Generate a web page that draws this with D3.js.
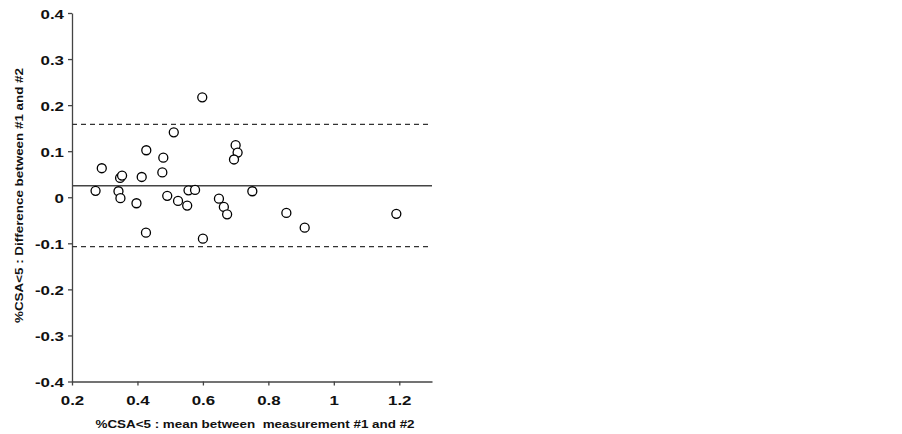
<!DOCTYPE html>
<html>
<head>
<meta charset="utf-8">
<script src="https://cdn.jsdelivr.net/npm/d3@7"></script>
<style>
  body { margin: 0; background: #fff; }
  svg text { font-family: "Liberation Sans", Arial, sans-serif; font-weight: bold; fill: #111; white-space: pre; }
  .tick line, .domain { stroke: #444; stroke-width: 1.3; }
  .dot { fill: #fff; stroke: #000; stroke-width: 1.3; }
</style>
</head>
<body>
<div id="chartHolder"></div>
<script>
// mean of the two measurements (x) and their difference (y)
const meanVals = [0.272, 0.291, 0.342, 0.347, 0.353, 0.348, 0.397, 0.413, 0.427, 0.426,
                  0.479, 0.476, 0.491, 0.511, 0.524, 0.556, 0.552, 0.576, 0.598, 0.600,
                  0.649, 0.664, 0.674, 0.700, 0.706, 0.695, 0.751, 0.855, 0.911, 1.191];
const diffVals = [0.014, 0.063, 0.013, 0.042, 0.047, -0.002, -0.013, 0.044, 0.102, -0.077,
                  0.086, 0.054, 0.003, 0.141, -0.008, 0.015, -0.018, 0.016, 0.217, -0.090,
                  -0.003, -0.021, -0.037, 0.113, 0.097, 0.082, 0.013, -0.034, -0.066, -0.036];
const biasLine = 0.025;
const limitLines = [0.158, -0.107];
const xTicks = [0.2, 0.4, 0.6, 0.8, 1, 1.2];
const yTicks = [0.4, 0.3, 0.2, 0.1, 0, -0.1, -0.2, -0.3, -0.4];

const w = 902, h = 434;
const stretch = 1.3;       // the original's bold font is wide, so glyphs get stretched sideways
const titleStretch = 1.22;

const svg = d3.select("#chartHolder").append("svg")
  .attr("width", w).attr("height", h);

const x = d3.scaleLinear().domain([0.2, 1.3]).range([72, 432]);
const y = d3.scaleLinear().domain([-0.4, 0.4]).range([381.5, 13]);

// plain hyphen for negatives, like the original
const fmt = (d) => d === 0 ? "0" : (d === 1 ? "1" : d.toFixed(1));

const xAxis = svg.append("g")
  .attr("transform", "translate(0," + y(-0.4) + ")")
  .call(d3.axisBottom(x).tickValues(xTicks).tickFormat(fmt).tickSize(4).tickSizeOuter(0));
xAxis.selectAll("text")
  .attr("font-size", 13)
  .attr("y", 23.5).attr("dy", null)
  .attr("transform", "scale(" + stretch + ",1)");

const yAxis = svg.append("g")
  .attr("transform", "translate(" + x(0.2) + ",0)")
  .call(d3.axisLeft(y).tickValues(yTicks).tickFormat(fmt).tickSize(4).tickSizeOuter(0));
yAxis.selectAll("text")
  .attr("font-size", 13)
  .attr("x", -8 / stretch).attr("dy", "0.4em")
  .attr("transform", "scale(" + stretch + ",1)");

// limits of agreement
svg.selectAll(".limit")
  .data(limitLines)
  .enter().append("line")
  .attr("class", "limit")
  .attr("x1", x(0.2)).attr("x2", x(1.3))
  .attr("y1", (d) => y(d)).attr("y2", (d) => y(d))
  .attr("stroke", "#333").attr("stroke-width", 1.3)
  .attr("stroke-dasharray", "5,4");

svg.append("line")
  .attr("x1", x(0.2)).attr("x2", x(1.3))
  .attr("y1", y(biasLine)).attr("y2", y(biasLine))
  .attr("stroke", "#444").attr("stroke-width", 1.5);

svg.selectAll(".dot")
  .data(meanVals)
  .enter().append("circle")
  .attr("class", "dot")
  .attr("cx", (d) => x(d))
  .attr("cy", (d, i) => y(diffVals[i]))
  .attr("r", 4.5);

svg.append("text")
  .attr("text-anchor", "middle")
  .attr("transform", "translate(255,427.5)scale(" + titleStretch + ",1)")
  .attr("font-size", 11)
  .text("%CSA<5 : mean between  measurement #1 and #2");

svg.append("text")
  .attr("text-anchor", "middle")
  .attr("transform", "translate(22.5,195.5)rotate(-90)scale(" + titleStretch + ",1)")
  .attr("font-size", 11)
  .text("%CSA<5 : Difference between #1 and #2");
</script>
</body>
</html>
